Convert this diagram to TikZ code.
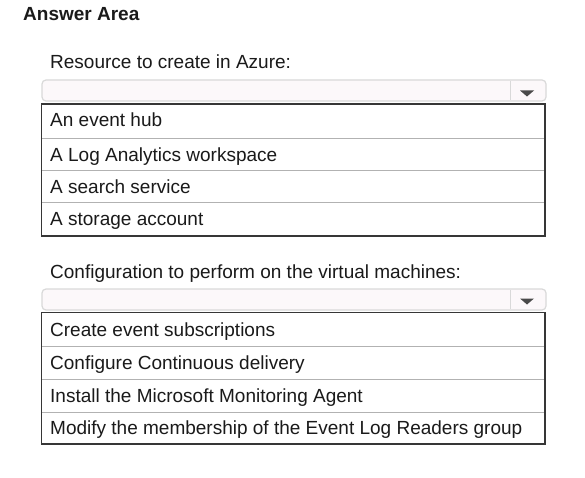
\documentclass[tikz,border=0pt]{standalone}
\usepackage{fontspec}
\setmainfont{Liberation Sans}
\usepackage{tikz}

\definecolor{framegray}{HTML}{363636}
\definecolor{rowgray}{HTML}{B2B2B2}
\definecolor{ddgray}{HTML}{D9D9D9}
\definecolor{ddfill}{HTML}{FCF8FA}
\definecolor{tipgray}{HTML}{4A4A4A}
\definecolor{txtblack}{HTML}{1A1A1A}

\begin{document}
\begin{tikzpicture}[x=1pt, y=-1pt,
        txt/.style={anchor=base west, inner sep=0pt, text=txtblack,
            font=\fontsize{19}{22}\selectfont},
        title/.style={txt, font=\fontsize{19}{22}\selectfont\bfseries},
        ddbox/.style={draw=ddgray, fill=ddfill, line width=1.2pt, rounded corners=4pt},
        ddline/.style={draw=ddgray, line width=1pt},
        rowline/.style={draw=rowgray, line width=1pt},
        listframe/.style={draw=framegray, line width=1.5pt}]
        \useasboundingbox[fill=white] (0,0) rectangle (585,478);

        \node[title] (answer) at (23,21) {Answer Area};

        % resource list
        \node[txt] (reshead) at (50,69) {Resource to create in Azure:};
        \draw[ddbox] (42,80) rectangle (546,101);
        \draw[ddline] (510,81) -- (510,100);
        \fill[tipgray] (520,90.5) -- (534,90.5) -- (527,96.5) -- cycle;

        \draw[rowline] (41.5,138.5) -- (545,138.5);
        \draw[rowline] (41.5,170.7) -- (545,170.7);
        \draw[rowline] (41.5,202.7) -- (545,202.7);
        \draw[listframe] (41.5,104) rectangle (545,236);
        \node[txt] (res1) at (50,127) {An event hub};
        \node[txt] (res2) at (50,161.7) {A Log Analytics workspace};
        \node[txt] (res3) at (50,193.5) {A search service};
        \node[txt] (res4) at (50,225.7) {A storage account};

        % configuration list
        \node[txt] (confhead) at (50,278) {Configuration to perform on the virtual machines:};
        \draw[ddbox] (42,289) rectangle (546,310);
        \draw[ddline] (510,290) -- (510,309);
        \fill[tipgray] (520,298.5) -- (534,298.5) -- (527,304.5) -- cycle;

        \draw[rowline] (41.5,346) -- (545,346);
        \draw[rowline] (41.5,379) -- (545,379);
        \draw[rowline] (41.5,412.3) -- (545,412.3);
        \draw[listframe] (41.5,312.7) rectangle (545,444);
        \node[txt] (conf1) at (50,336) {Create event subscriptions};
        \node[txt] (conf2) at (50,369) {Configure Continuous delivery};
        \node[txt] (conf3) at (50,402) {Install the Microsoft Monitoring Agent};
        \node[txt] (conf4) at (50,434.7) {Modify the membership of the Event Log Readers group};
    \end{tikzpicture}
\end{document}
